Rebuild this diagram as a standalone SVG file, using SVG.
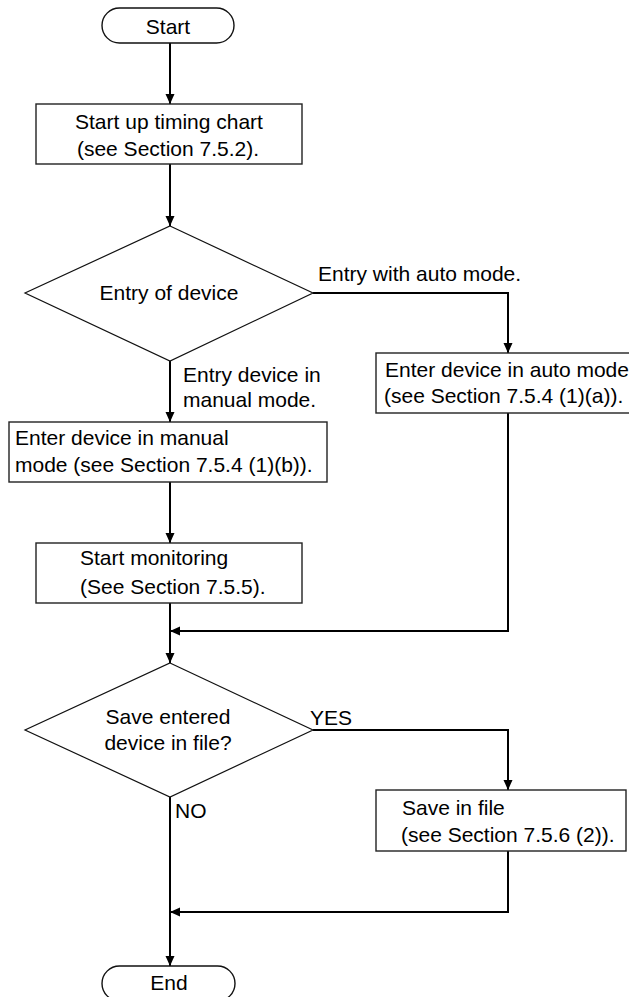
<svg xmlns="http://www.w3.org/2000/svg" width="629" height="997" viewBox="0 0 629 997">
<defs>
<style>
text{font-family:"Liberation Sans",Arial,Helvetica,sans-serif;font-size:21px;fill:#000}
.box{fill:#fff;stroke:#222;stroke-width:1.4}
.dia{fill:#fff;stroke:#111;stroke-width:1.2}
.term{fill:#fff;stroke:#111;stroke-width:1.4}
.conn{fill:none;stroke:#000;stroke-width:2}
.mid{text-anchor:middle}
</style>
<marker id="ah" markerUnits="userSpaceOnUse" markerWidth="10" markerHeight="10" refX="10" refY="5" orient="auto">
<path d="M0,0.5 L10,5 L0,9.5 z" fill="#000"/>
</marker>
</defs>
<rect width="629" height="997" fill="#fff"/>
<g id="connectors">
<path class="conn" d="M170,43 V104" marker-end="url(#ah)"/>
<path class="conn" d="M170,164 V226" marker-end="url(#ah)"/>
<path class="conn" d="M313,293 H508 V353" marker-end="url(#ah)"/>
<path class="conn" d="M170,361 V422" marker-end="url(#ah)"/>
<path class="conn" d="M170,482 V543" marker-end="url(#ah)"/>
<path class="conn" d="M170,603 V663" marker-end="url(#ah)"/>
<path class="conn" d="M508,413 V631 H170" marker-end="url(#ah)"/>
<path class="conn" d="M313,730 H508 V790" marker-end="url(#ah)"/>
<path class="conn" d="M170,797 V966" marker-end="url(#ah)"/>
<path class="conn" d="M508,851 V912 H170" marker-end="url(#ah)"/>
<text x="318" y="281">Entry with auto mode.</text>
<text x="183" y="382">Entry device in</text>
<text x="183" y="407">manual mode.</text>
<text x="310" y="725">YES</text>
<text x="175" y="818">NO</text>
</g>
<g id="start">
<rect class="term" x="102" y="8" width="132" height="35" rx="17.5"/>
<text class="mid" x="168" y="34">Start</text>
</g>
<g id="startup">
<rect class="box" x="36" y="104" width="266" height="60"/>
<text class="mid" x="169" y="129">Start up timing chart</text>
<text class="mid" x="168" y="156">(see Section 7.5.2).</text>
</g>
<g id="entry-decision">
<polygon class="dia" points="170,226 313,293 170,361 25,293"/>
<text class="mid" x="169" y="300">Entry of device</text>
</g>
<g id="auto-entry">
<rect class="box" x="376" y="353" width="270" height="60"/>
<text x="385" y="377">Enter device in auto mode</text>
<text x="384" y="403">(see Section 7.5.4 (1)(a)).</text>
</g>
<g id="manual-entry">
<rect class="box" x="9" y="422" width="318" height="60"/>
<text x="15" y="445">Enter device in manual</text>
<text x="15" y="472">mode (see Section 7.5.4 (1)(b)).</text>
</g>
<g id="monitoring">
<rect class="box" x="36" y="543" width="266" height="60"/>
<text x="80" y="565">Start monitoring</text>
<text x="80" y="594">(See Section 7.5.5).</text>
</g>
<g id="save-decision">
<polygon class="dia" points="170,663 313,730 170,797 25,730"/>
<text class="mid" x="168" y="724">Save entered</text>
<text class="mid" x="168" y="750">device in file?</text>
</g>
<g id="save-file">
<rect class="box" x="376" y="790" width="250" height="61"/>
<text x="402" y="815">Save in file</text>
<text x="401" y="842">(see Section 7.5.6 (2)).</text>
</g>
<g id="end">
<rect class="term" x="102" y="966" width="133" height="35" rx="17.5"/>
<text class="mid" x="169" y="990">End</text>
</g>
</svg>
